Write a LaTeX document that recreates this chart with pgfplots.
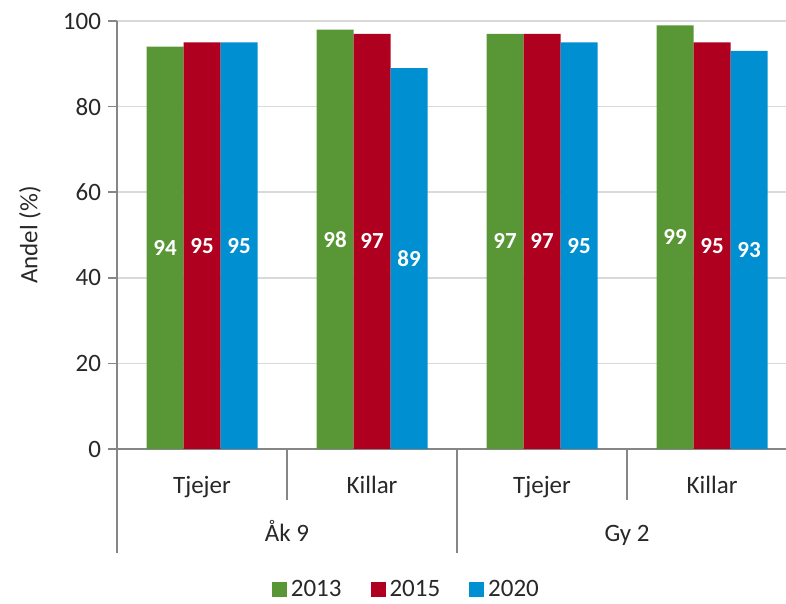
\documentclass[border=0pt]{standalone}
\usepackage{pgfplots}
\pgfplotsset{compat=1.18}
\usepackage{fontspec}
\setmainfont{Carlito}

\definecolor{c13}{RGB}{88,150,54}
\definecolor{c15}{RGB}{176,0,32}
\definecolor{c20}{RGB}{0,144,210}
\definecolor{gridgray}{RGB}{217,217,217}
\definecolor{axgray}{RGB}{134,134,134}
\definecolor{txt}{RGB}{40,40,40}

\pgfplotsset{legsq/.style={legend image code/.code={\fill[##1] (0pt,-3.5pt) rectangle (7.5pt,4pt);}}}

\begin{document}
\begin{tikzpicture}[font=\fontsize{12.5}{14}\selectfont, text=txt]
\path[use as bounding box] (0,0) rectangle (393pt,302pt);
\begin{axis}[
  at={(58.5pt,77.5pt)}, anchor=south west,
  scale only axis, width=334.5pt, height=214pt,
  xmin=-0.5, xmax=3.435, ymin=0, ymax=100,
  ytick={0,20,...,100}, xtick=\empty,
  axis x line*=bottom, axis y line*=left,
  axis line style={axgray, line width=0.8pt},
  ymajorgrids, grid style={gridgray, line width=0.8pt},
  tick align=outside, major tick length=4.5pt,
  ytick style={axgray, line width=0.8pt},
  /pgf/number format/assume math mode=true,
  ylabel={Andel (\%)},
  every axis y label/.style={at={(axis description cs:0,0.5)}, rotate=90, anchor=center, yshift=43.5pt},
  ybar=0pt, bar width=18.5pt,
  clip=false,
  nodes near coords,
  visualization depends on={y \as \rawy},
  every node near coord/.append style={anchor=center, white, font=\fontsize{11.5}{13}\bfseries,
    shift={(axis direction cs:0,-\rawy/2)}},
  legend columns=3,
  legend style={draw=none, fill=none, at={(0.434,0)}, anchor=center, yshift=-70.5pt,
    /tikz/every even column/.append style={column sep=12.5pt}},
]
\addplot[fill=c13, draw=none, legsq] coordinates {(0,94) (1,98) (2,97) (3,99)};
\addplot[fill=c15, draw=none, legsq] coordinates {(0,95) (1,97) (2,97) (3,95)};
\addplot[fill=c20, draw=none, legsq] coordinates {(0,95) (1,89) (2,95) (3,93)};
\legend{2013,2015,2020}

\draw[axgray, line width=0.8pt] (axis cs:-0.5,0) -- ([yshift=-52pt]axis cs:-0.5,0);
\draw[axgray, line width=0.8pt] (axis cs:0.5,0) -- ([yshift=-25.5pt]axis cs:0.5,0);
\draw[axgray, line width=0.8pt] (axis cs:1.5,0) -- ([yshift=-52pt]axis cs:1.5,0);
\draw[axgray, line width=0.8pt] (axis cs:2.5,0) -- ([yshift=-25.5pt]axis cs:2.5,0);
\node[anchor=base] at ([yshift=-22.5pt]axis cs:0,0) {Tjejer};
\node[anchor=base] at ([yshift=-22.5pt]axis cs:1,0) {Killar};
\node[anchor=base] at ([yshift=-22.5pt]axis cs:2,0) {Tjejer};
\node[anchor=base] at ([yshift=-22.5pt]axis cs:3,0) {Killar};
\node[anchor=base] at ([yshift=-46.5pt]axis cs:0.5,0) {Åk 9};
\node[anchor=base] at ([yshift=-46.5pt]axis cs:2.5,0) {Gy 2};
\end{axis}
\end{tikzpicture}
\end{document}
